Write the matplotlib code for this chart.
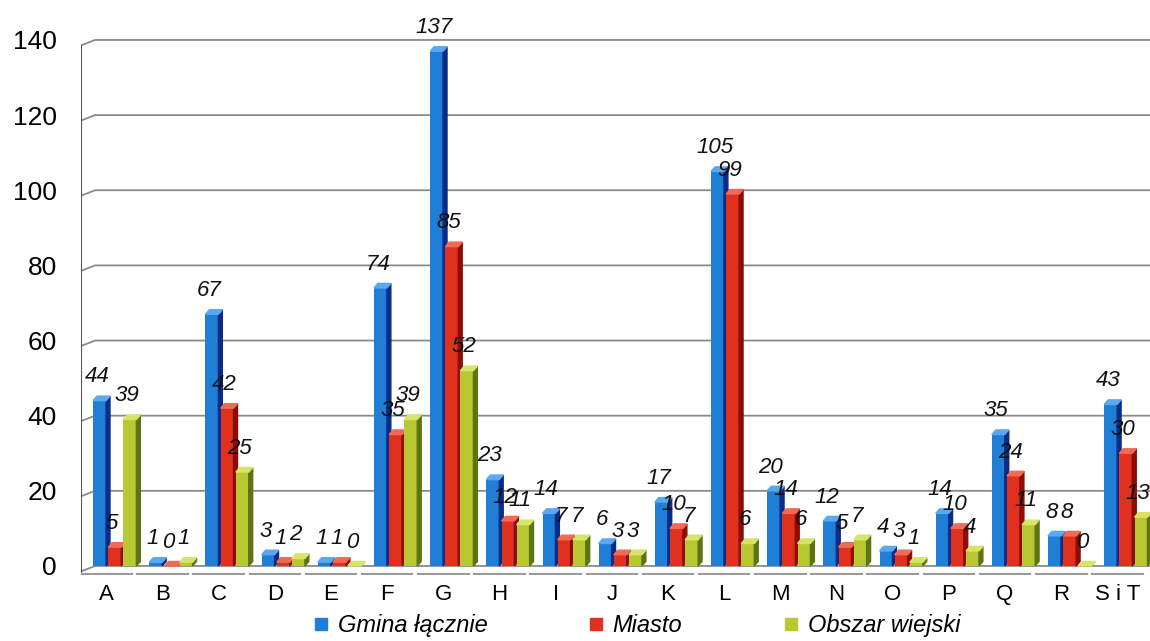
import numpy as np
import matplotlib.pyplot as plt
from matplotlib.patches import Polygon

plt.rcParams['font.family'] = ['Liberation Sans', 'DejaVu Sans']

categories = ['A', 'B', 'C', 'D', 'E', 'F', 'G', 'H', 'I', 'J',
              'K', 'L', 'M', 'N', 'O', 'P', 'Q', 'R', 'S i T']
gmina = [44, 1, 67, 3, 1, 74, 137, 23, 14, 6, 17, 105, 20, 12, 4, 14, 35, 8, 43]
miasto = [5, 0, 42, 1, 1, 35, 85, 12, 7, 3, 10, 99, 14, 5, 3, 10, 24, 8, 30]
wies = [39, 1, 25, 2, 0, 39, 52, 11, 7, 3, 7, 6, 6, 7, 1, 4, 11, 0, 13]
series_names = ['Gmina łącznie', 'Miasto', 'Obszar wiejski']

# front / side / top colours for each series
face = ['#1f7fd6', '#e0301e', '#b9c832']
side = ['#0b2b86', '#8c0d06', '#5d7412']
top = ['#5aa8ef', '#f26a55', '#d8e468']

fig = plt.figure(figsize=(11.5, 6.41), dpi=100)
ax = fig.add_axes([0.07, 0.1024, 0.93, 0.847])
ax.set_xlim(-0.46, 18.58)
ax.set_ylim(-2.5, 142)

x = np.arange(len(categories))
w = 0.23
dx, dy = 0.07, 1.2
offsets = [-0.12, 0.15, 0.42]

# back wall grid with a short slanted start at the left edge
for v in range(0, 141, 20):
    ax.plot([-0.46, -0.2, 18.58], [v - 1.5, v, v], color='#8a8a8a', lw=1.3, zorder=1)
ax.plot([-0.46, -0.46], [-1.5, 138.5], color='#555555', lw=1.5, zorder=1)
for xi in x:
    ax.plot([xi - 0.45, xi + 0.45], [-2.2, -2.2], color='#9a9a9a', lw=1.5, zorder=1)

for i, vals in enumerate([gmina, miasto, wies]):
    for xi, v in zip(x, vals):
        xc = xi + offsets[i]
        x0, x1 = xc - w / 2, xc + w / 2
        ax.bar(xc, v, width=w, color=face[i], edgecolor='none', zorder=3 + i)
        ax.add_patch(Polygon([(x1, 0), (x1 + dx, dy), (x1 + dx, v + dy), (x1, v)],
                             closed=True, color=side[i], zorder=3 + i))
        ax.add_patch(Polygon([(x0, v), (x0 + dx, v + dy), (x1 + dx, v + dy), (x1, v)],
                             closed=True, color=top[i], zorder=3 + i))
        ax.text(xc - 0.05, v + 3.5, str(v), ha='center', va='bottom', fontsize=16,
                style='italic', color='#111111', zorder=10)

for s in ax.spines.values():
    s.set_visible(False)
ax.set_xticks(x)
ax.set_xticklabels(categories, fontsize=16)
ax.set_yticks(range(0, 141, 20))
ax.set_yticklabels([str(v) for v in range(0, 141, 20)], fontsize=19)
ax.tick_params(axis='both', length=0)
ax.tick_params(axis='y', pad=17)
ax.tick_params(axis='x', pad=6)

handles = [plt.Line2D([], [], marker='s', linestyle='none', markersize=9,
                      color=face[i]) for i in range(3)]
fig.legend(handles, series_names, loc='center', bbox_to_anchor=(0.553, 0.024),
           ncol=3, frameon=False, prop={'size': 17, 'style': 'italic'},
           handlelength=0.8, handletextpad=0.3, columnspacing=4.2)

fig.savefig('out.png', dpi=100)
